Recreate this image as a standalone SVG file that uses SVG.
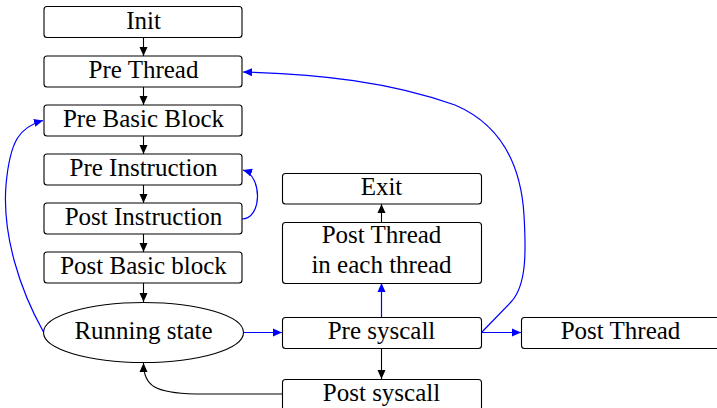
<svg xmlns="http://www.w3.org/2000/svg" width="717" height="408" viewBox="0 0 717 408">
  <style>
    .box { fill: #ffffff; stroke: #000000; stroke-width: 1.1; }
    .lbl { font-family: "Liberation Serif", "Times New Roman", serif; font-size: 25px; fill: #000000; text-anchor: middle; }
    .edge { fill: none; stroke: #000000; stroke-width: 1.1; }
    .blue { fill: none; stroke: #0000ff; stroke-width: 1.2; }
  </style>
  <defs>
    <marker id="ah" markerWidth="10" markerHeight="10" refX="9" refY="5" orient="auto" markerUnits="userSpaceOnUse">
      <path d="M0,1 L9,5 L0,9 Z" fill="#000000"/>
    </marker>
    <marker id="ahb" markerWidth="10" markerHeight="10" refX="9" refY="5" orient="auto" markerUnits="userSpaceOnUse">
      <path d="M0,1 L9,5 L0,9 Z" fill="#0000ff"/>
    </marker>
  </defs>

  <g id="connectors">
    <!-- main vertical chain -->
    <line class="edge" x1="143.5" y1="37" x2="143.5" y2="56" marker-end="url(#ah)"/>
    <line class="edge" x1="143.5" y1="87" x2="143.5" y2="105" marker-end="url(#ah)"/>
    <line class="edge" x1="143.5" y1="136" x2="143.5" y2="154" marker-end="url(#ah)"/>
    <line class="edge" x1="143.5" y1="185" x2="143.5" y2="203" marker-end="url(#ah)"/>
    <line class="edge" x1="143.5" y1="234" x2="143.5" y2="252" marker-end="url(#ah)"/>
    <line class="edge" x1="143.5" y1="283" x2="143.5" y2="302" marker-end="url(#ah)"/>
    <!-- syscall path -->
    <line class="edge" x1="381.5" y1="348" x2="381.5" y2="379" marker-end="url(#ah)"/>
    <path class="edge" d="M282,394 L195,394 C155,393 143.5,386 143.5,363" marker-end="url(#ah)"/>
    <line class="edge" x1="381.5" y1="222" x2="381.5" y2="204" marker-end="url(#ah)"/>
    <!-- blue transitions -->
    <path class="blue" d="M43.5,332 C20,290 2,235 6,185 C10,140 20,127 43,120.5" marker-end="url(#ahb)"/>
    <path class="blue" d="M242,219 C262,219 263,176 243,170" marker-end="url(#ahb)"/>
    <line class="blue" x1="243" y1="332.5" x2="282" y2="332.5" marker-end="url(#ahb)"/>
    <line class="blue" x1="381.5" y1="317" x2="381.5" y2="283" marker-end="url(#ahb)"/>
    <line class="blue" x1="481.5" y1="332.5" x2="521" y2="332.5" marker-end="url(#ahb)"/>
    <path class="blue" d="M481.5,332.5 L511,302 C527,285 526,250 524,215 C520,150 490,120 455,105 C390,82 320,74 243,72" marker-end="url(#ahb)"/>
  </g>

  <g id="init"><rect class="box" x="44" y="6.5" width="198" height="31" rx="3"/><text class="lbl" x="143.5" y="28.5">Init</text></g>
  <g id="pre-thread"><rect class="box" x="44" y="56" width="198" height="31" rx="3"/><text class="lbl" x="143.5" y="77.5">Pre Thread</text></g>
  <g id="pre-basic-block"><rect class="box" x="44" y="105" width="198" height="31" rx="3"/><text class="lbl" x="143.5" y="126.5">Pre Basic Block</text></g>
  <g id="pre-instruction"><rect class="box" x="44" y="154" width="198" height="31" rx="3"/><text class="lbl" x="143.5" y="175.5">Pre Instruction</text></g>
  <g id="post-instruction"><rect class="box" x="44" y="203" width="198" height="31" rx="3"/><text class="lbl" x="143.5" y="224.5">Post Instruction</text></g>
  <g id="post-basic-block"><rect class="box" x="44" y="252" width="198" height="31" rx="3"/><text class="lbl" x="143.5" y="273.5">Post Basic block</text></g>
  <g id="running-state"><ellipse class="box" cx="143.5" cy="332.5" rx="100" ry="30"/><text class="lbl" x="143.5" y="338.5">Running state</text></g>

  <g id="exit"><rect class="box" x="282.5" y="173.5" width="199" height="30.5" rx="3"/><text class="lbl" x="381.5" y="195">Exit</text></g>
  <g id="post-thread-each"><rect class="box" x="282.5" y="222.5" width="199" height="61" rx="3"/><text class="lbl" x="381.5" y="242.5">Post Thread</text><text class="lbl" x="381.5" y="272.5">in each thread</text></g>
  <g id="pre-syscall"><rect class="box" x="282.5" y="317.5" width="199" height="31" rx="3"/><text class="lbl" x="381.5" y="338.5">Pre syscall</text></g>
  <g id="post-syscall"><rect class="box" x="282.5" y="379.5" width="199" height="31" rx="3"/><text class="lbl" x="381.5" y="400.5">Post syscall</text></g>
  <g id="post-thread"><rect class="box" x="521.5" y="317.5" width="199" height="31" rx="3"/><text class="lbl" x="620.5" y="338.5">Post Thread</text></g>
</svg>
